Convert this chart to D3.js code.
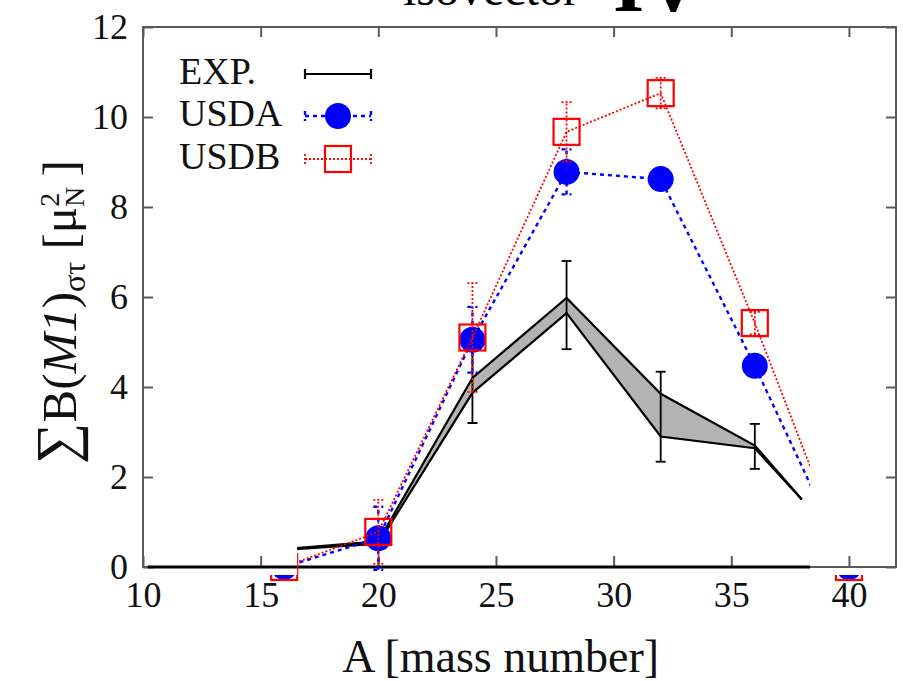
<!DOCTYPE html>
<html>
<head>
<meta charset="utf-8">
<script src="https://cdn.jsdelivr.net/npm/d3@7/dist/d3.min.js"></script>
<style>
  html, body { margin: 0; padding: 0; background: #fff; }
  svg { display: block; font-family: "Liberation Serif", "DejaVu Serif", serif; }
</style>
</head>
<body>
<svg id="chart" width="903" height="681"></svg>
<script>
// Summed isovector spin M1 strength in the sd shell: experiment vs. USDA / USDB
const massNumber   = [16, 20, 24, 28, 32, 36, 40];
const usdaValues   = [0, 0.64, 5.05, 8.78, 8.62, 4.47, 0];
const usdaErrors   = [0, 0.70, 0.73, 0.50, 0.20, 0.20, 0];
const usdbValues   = [0, 0.78, 5.10, 9.67, 10.53, 5.42, 0];
const usdbErrors   = [0, 0.71, 1.21, 0.66, 0.34, 0.25, 0];

const expMass      = [16, 20, 24, 28, 32, 36, 38];
const expLower     = [0.38, 0.52, 3.87, 5.64, 2.90, 2.64, 1.50];
const expUpper     = [0.40, 0.57, 4.20, 5.98, 3.85, 2.70, 1.50];
const expBarMass   = [24, 28, 32, 36];
const expBarCenter = [4.00, 5.82, 3.34, 2.68];
const expBarError  = [0.80, 0.98, 1.00, 0.50];

const xTicks = [10, 15, 20, 25, 30, 35, 40];
const yTicks = [0, 2, 4, 6, 8, 10, 12];
const legendLabels = ["EXP.", "USDA", "USDB"];

const svg = d3.select("#chart");
const x = d3.scaleLinear().domain([10, 42]).range([143, 896]);
const y = d3.scaleLinear().domain([0, 12]).range([567, 27]);

const frameColor = "#5a5a5a";
const blue = "#0000ff", red = "#ff0000", gray = "#b3b3b3";

// Heading (top edge of the page cuts through it)
svg.append("text").attr("x", 403).attr("y", 5).attr("font-size", 48)
  .attr("fill", "#000").text("isovector");
svg.append("text").attr("x", 613).attr("y", 11).attr("font-size", 80)
  .attr("font-weight", "bold").attr("fill", "#000").text("IV");

// Axes with inward ticks
function styleAxis(g) {
  g.select(".domain").remove();
  g.selectAll(".tick line").attr("stroke", frameColor).attr("stroke-width", 2);
  g.selectAll(".tick text").attr("font-family", "Liberation Serif, serif")
    .attr("font-size", 36).attr("fill", "#111");
}
svg.append("g").attr("transform", `translate(0,${y(0)})`)
  .call(d3.axisBottom(x).tickValues(xTicks).tickSizeInner(-11).tickSizeOuter(0).tickPadding(14).tickFormat(d3.format("d")))
  .call(styleAxis);
svg.append("g").attr("transform", `translate(0,${y(12)})`)
  .call(d3.axisTop(x).tickValues(xTicks).tickSizeInner(-10).tickSizeOuter(0).tickFormat(""))
  .call(styleAxis);
svg.append("g").attr("transform", `translate(${x(10)},0)`)
  .call(d3.axisLeft(y).tickValues(yTicks).tickSizeInner(-10).tickSizeOuter(0).tickPadding(15).tickFormat(d3.format("d")))
  .call(styleAxis);
svg.append("g").attr("transform", `translate(${x(42)},0)`)
  .call(d3.axisRight(y).tickValues(yTicks).tickSizeInner(-10).tickSizeOuter(0).tickFormat(""))
  .call(styleAxis);

// Frame
svg.append("rect")
  .attr("x", x(10)).attr("y", y(12))
  .attr("width", x(42) - x(10)).attr("height", y(0) - y(12))
  .attr("fill", "none").attr("stroke", frameColor).attr("stroke-width", 2);

// Zero line across the calculated range
svg.append("line")
  .attr("x1", x(10.2)).attr("x2", x(38.35))
  .attr("y1", y(0)).attr("y2", y(0))
  .attr("stroke", "#000").attr("stroke-width", 3);

// Clip: data window plus a thin strip just below the axis
const clip = svg.append("defs").append("clipPath").attr("id", "dataClip");
clip.append("rect")
  .attr("x", x(16.55)).attr("y", y(12))
  .attr("width", x(38.35) - x(16.55)).attr("height", y(-0.18) - y(12));
clip.append("rect")
  .attr("x", x(10)).attr("y", y(-0.18))
  .attr("width", x(42) - x(10)).attr("height", y(-0.34) - y(-0.18));

const plot = svg.append("g").attr("clip-path", "url(#dataClip)");

// Experimental band
const expRows = expMass.map((a, i) => ({ a, lo: expLower[i], hi: expUpper[i] }));
plot.append("path").datum(expRows)
  .attr("d", d3.area().x(d => x(d.a)).y0(d => y(d.lo)).y1(d => y(d.hi)))
  .attr("fill", gray).attr("stroke", "none");
["lo", "hi"].forEach(k => {
  plot.append("path").datum(expRows)
    .attr("d", d3.line().x(d => x(d.a)).y(d => y(d[k])))
    .attr("fill", "none").attr("stroke", "#000").attr("stroke-width", 2.2)
    .attr("stroke-linejoin", "miter");
});

// Experimental error bars
expBarMass.forEach((a, i) => {
  const lo = expBarCenter[i] - expBarError[i], hi = expBarCenter[i] + expBarError[i];
  const g = plot.append("g").attr("stroke", "#000").attr("stroke-width", 1.8);
  g.append("line").attr("x1", x(a)).attr("x2", x(a)).attr("y1", y(lo)).attr("y2", y(hi));
  [lo, hi].forEach(v => g.append("line")
    .attr("x1", x(a) - 5).attr("x2", x(a) + 5).attr("y1", y(v)).attr("y2", y(v)));
});

// Calculated series
function drawSeries(values, errors, color, dash, width, marker) {
  const rows = massNumber.map((a, i) => ({ a, v: values[i], e: errors[i] }));
  rows.filter(d => d.e > 0).forEach(d => {
    const g = plot.append("g").attr("stroke", color).attr("stroke-width", width)
      .attr("stroke-dasharray", dash);
    g.append("line").attr("x1", x(d.a)).attr("x2", x(d.a))
      .attr("y1", y(d.v - d.e)).attr("y2", y(d.v + d.e));
    [d.v - d.e, d.v + d.e].forEach(v => g.append("line")
      .attr("x1", x(d.a) - 5).attr("x2", x(d.a) + 5).attr("y1", y(v)).attr("y2", y(v)));
  });
  plot.append("path").datum(rows)
    .attr("d", d3.line().x(d => x(d.a)).y(d => y(d.v)))
    .attr("fill", "none").attr("stroke", color).attr("stroke-width", width)
    .attr("stroke-dasharray", dash);
  rows.forEach(d => marker(plot, x(d.a), y(d.v)));
}
function circleMarker(g, cx, cy) {
  g.append("circle").attr("cx", cx).attr("cy", cy).attr("r", 13).attr("fill", blue);
}
function squareMarker(g, cx, cy) {
  g.append("rect").attr("x", cx - 13).attr("y", cy - 13).attr("width", 26).attr("height", 26)
    .attr("fill", "none").attr("stroke", red).attr("stroke-width", 2.2);
}
drawSeries(usdaValues, usdaErrors, blue, "4,4", 2.4, circleMarker);
drawSeries(usdbValues, usdbErrors, red, "2,2", 1.8, squareMarker);

// Legend
const legendY = [74, 116, 159];
const sx1 = 305, sx2 = 371, smid = 338;
legendLabels.forEach((t, i) => {
  svg.append("text").attr("x", 179).attr("y", legendY[i] + 10).attr("font-size", 38)
    .attr("fill", "#111").text(t);
});
const styles = [
  { color: "#000", dash: null, width: 2.2 },
  { color: blue, dash: "4,4", width: 2.4 },
  { color: red, dash: "2,2", width: 1.8 }
];
styles.forEach((s, i) => {
  const g = svg.append("g").attr("stroke", s.color).attr("stroke-width", s.width)
    .attr("stroke-dasharray", s.dash);
  g.append("line").attr("x1", sx1).attr("x2", sx2).attr("y1", legendY[i]).attr("y2", legendY[i]);
  [sx1, sx2].forEach(xx => g.append("line").attr("x1", xx).attr("x2", xx)
    .attr("y1", legendY[i] - 5).attr("y2", legendY[i] + 5));
});
circleMarker(svg, smid, legendY[1]);
squareMarker(svg, smid, legendY[2]);

// Axis titles
svg.append("text").attr("x", x(25.2)).attr("y", 672).attr("text-anchor", "middle")
  .attr("font-size", 46).attr("fill", "#111").text("A [mass number]");

const yt = svg.append("text").attr("transform", "translate(76,312) rotate(-90)")
  .attr("text-anchor", "middle").attr("font-size", 49).attr("fill", "#111");
yt.append("tspan").attr("font-size", 58).text("∑");
yt.append("tspan").text("B(");
yt.append("tspan").attr("font-style", "italic").text("M1");
yt.append("tspan").text(")");
yt.append("tspan").attr("font-size", 32).attr("dy", 9).text("στ");
yt.append("tspan").attr("dy", -9).text(" [μ");
yt.append("tspan").attr("font-size", 28).attr("dy", 8).text("N");
yt.append("tspan").attr("font-size", 28).attr("dx", -20).attr("dy", -25).text("2");
yt.append("tspan").attr("dy", 17).attr("dx", 4).text(" ]");
</script>
</body>
</html>
